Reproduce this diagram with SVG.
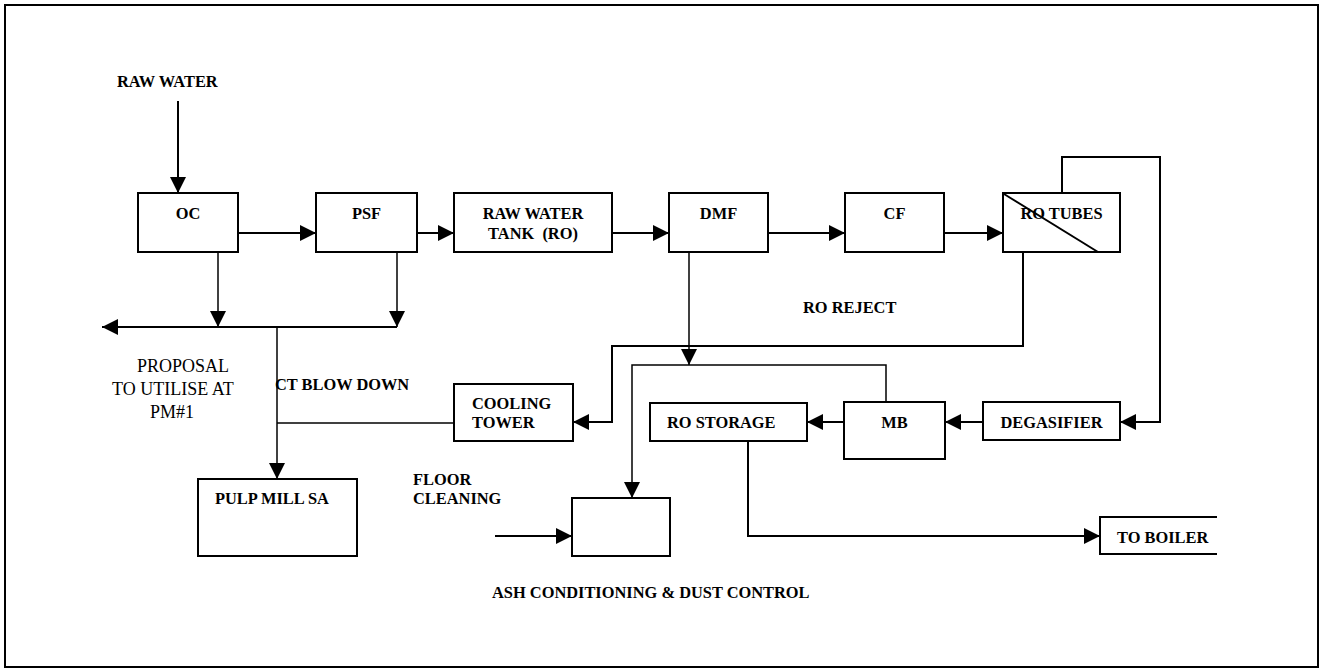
<svg xmlns="http://www.w3.org/2000/svg" width="1322" height="669" viewBox="0 0 1322 669">
<style>
.box{fill:#fff;stroke:#000;stroke-width:2}
.t{font-family:"Liberation Serif","Times New Roman",serif;font-size:16.4px;font-weight:bold;fill:#000}
.r{font-family:"Liberation Serif","Times New Roman",serif;font-size:18px;font-weight:normal;fill:#000}
.c{fill:none;stroke:#000;stroke-width:2}
.th{fill:none;stroke:#000;stroke-width:1.5}
</style>
<defs>
<marker id="ah" markerUnits="userSpaceOnUse" markerWidth="16" markerHeight="16" refX="16" refY="8" orient="auto">
<path d="M0,0 L16,8 L0,16 z" fill="#000"/>
</marker>
</defs>
<rect width="1322" height="669" fill="#fff"/>
<rect x="5" y="5" width="1313" height="662" fill="none" stroke="#000" stroke-width="2"/>

<g id="connectors">
<line class="c" x1="178" y1="101" x2="178" y2="193" marker-end="url(#ah)"/>
<line class="c" x1="238" y1="233" x2="316" y2="233" marker-end="url(#ah)"/>
<line class="c" x1="417" y1="233" x2="454" y2="233" marker-end="url(#ah)"/>
<line class="c" x1="612" y1="233" x2="669" y2="233" marker-end="url(#ah)"/>
<line class="c" x1="768" y1="233" x2="845" y2="233" marker-end="url(#ah)"/>
<line class="c" x1="944" y1="233" x2="1003" y2="233" marker-end="url(#ah)"/>
<line class="th" x1="218" y1="252" x2="218" y2="327" marker-end="url(#ah)"/>
<line class="th" x1="397" y1="252" x2="397" y2="327" marker-end="url(#ah)"/>
<line class="c" x1="397" y1="327" x2="102" y2="327" marker-end="url(#ah)"/>
<line class="th" x1="277" y1="327" x2="277" y2="479" marker-end="url(#ah)"/>
<line class="th" x1="454" y1="423" x2="277" y2="423"/>
<polyline class="c" points="1023,252 1023,346 612,346 612,422 573,422" marker-end="url(#ah)"/>
<line class="th" x1="689" y1="252" x2="689" y2="365" marker-end="url(#ah)"/>
<polyline class="th" points="886,402 886,365 632,365 632,498" marker-end="url(#ah)"/>
<line class="c" x1="844" y1="422" x2="807" y2="422" marker-end="url(#ah)"/>
<line class="c" x1="983" y1="422" x2="945" y2="422" marker-end="url(#ah)"/>
<polyline class="c" points="1062,193 1062,157 1160,157 1160,422 1120,422" marker-end="url(#ah)"/>
<polyline class="c" points="748,441 748,536 1100,536" marker-end="url(#ah)"/>
<line class="c" x1="495" y1="536" x2="572" y2="536" marker-end="url(#ah)"/>
</g>

<g id="label-raw-water"><text class="t" x="117" y="87">RAW WATER</text></g>
<g id="oc"><rect class="box" x="138" y="193" width="100" height="59"/><text class="t" x="188" y="219" text-anchor="middle">OC</text></g>
<g id="psf"><rect class="box" x="316" y="193" width="101" height="59"/><text class="t" x="366.5" y="219" text-anchor="middle">PSF</text></g>
<g id="raw-water-tank"><rect class="box" x="454" y="193" width="158" height="59"/><text class="t" x="533" y="219" text-anchor="middle">RAW WATER</text><text class="t" x="533" y="239" text-anchor="middle" xml:space="preserve">TANK  (RO)</text></g>
<g id="dmf"><rect class="box" x="669" y="193" width="99" height="59"/><text class="t" x="718.5" y="219" text-anchor="middle">DMF</text></g>
<g id="cf"><rect class="box" x="845" y="193" width="99" height="59"/><text class="t" x="894.5" y="219" text-anchor="middle">CF</text></g>
<g id="ro-tubes"><rect class="box" x="1003" y="193" width="117" height="59"/><text class="t" x="1061.5" y="219" text-anchor="middle">RO TUBES</text><line class="c" x1="1004" y1="194" x2="1098" y2="252"/></g>
<g id="label-ro-reject"><text class="t" x="803" y="313">RO REJECT</text></g>
<g id="label-proposal"><text class="r" x="137" y="372">PROPOSAL</text><text class="r" x="112" y="395">TO UTILISE AT</text><text class="r" x="150" y="418">PM#1</text></g>
<g id="label-ct-blow-down"><text class="t" x="275" y="390">CT BLOW DOWN</text></g>
<g id="cooling-tower"><rect class="box" x="454" y="384" width="119" height="57"/><text class="t" x="472" y="409">COOLING</text><text class="t" x="472" y="428">TOWER</text></g>
<g id="ro-storage"><rect class="box" x="650" y="403" width="157" height="38"/><text class="t" x="667" y="428">RO STORAGE</text></g>
<g id="mb"><rect class="box" x="844" y="402" width="101" height="57"/><text class="t" x="894.5" y="428" text-anchor="middle">MB</text></g>
<g id="degasifier"><rect class="box" x="983" y="402" width="137" height="38"/><text class="t" x="1051.5" y="428" text-anchor="middle">DEGASIFIER</text></g>
<g id="pulp-mill"><rect class="box" x="198" y="479" width="159" height="77"/><text class="t" x="215" y="504">PULP MILL SA</text></g>
<g id="label-floor-cleaning"><text class="t" x="413" y="485">FLOOR</text><text class="t" x="413" y="504">CLEANING</text></g>
<g id="ash-conditioning"><rect class="box" x="572" y="498" width="98" height="58"/></g>
<g id="label-ash"><text class="t" x="492" y="598">ASH CONDITIONING &amp; DUST CONTROL</text></g>
<g id="to-boiler"><path class="c" d="M1217,517 H1100 V554 H1217"/><text class="t" x="1117" y="543">TO BOILER</text></g>
</svg>
